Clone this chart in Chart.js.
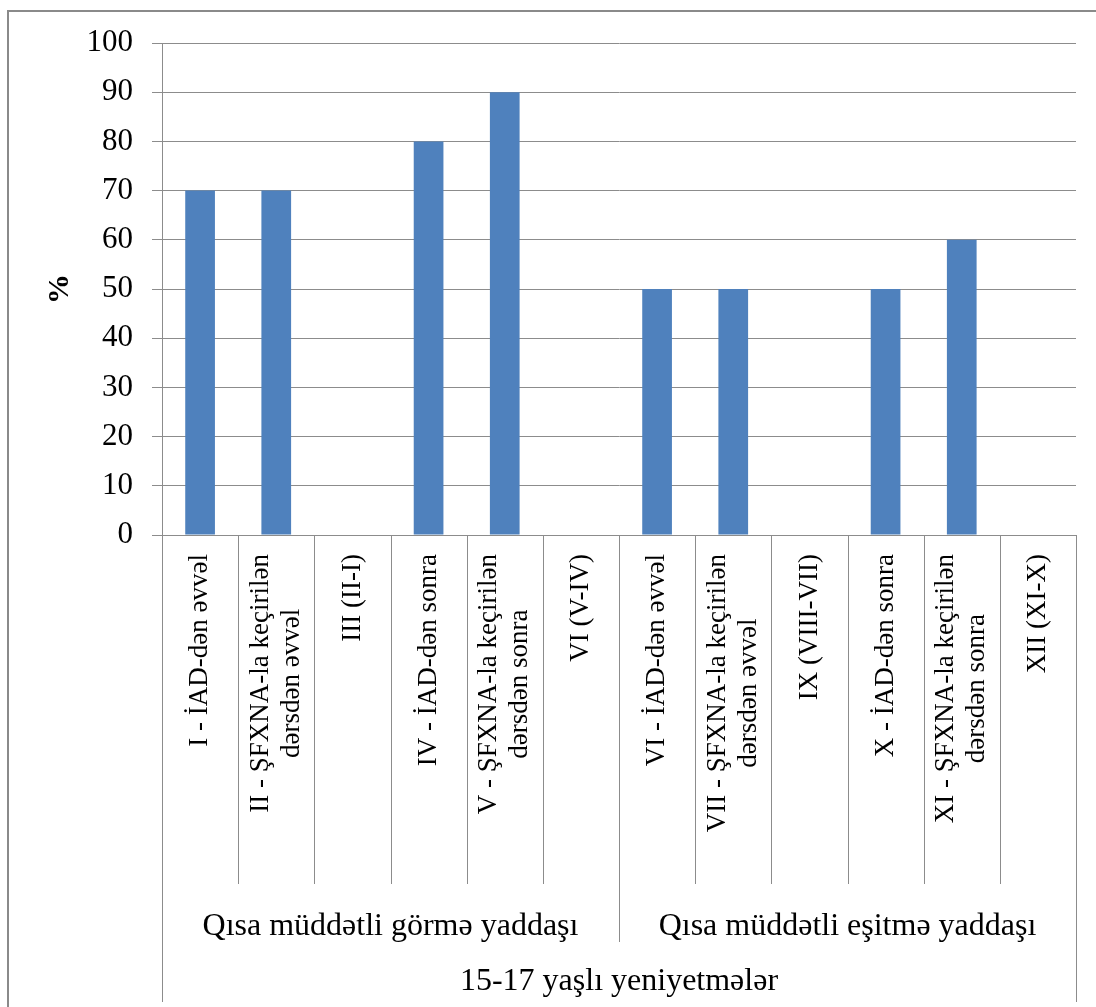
<!DOCTYPE html>
<html>
<head>
<meta charset="utf-8">
<script src="https://cdn.jsdelivr.net/npm/chart.js@4/dist/chart.umd.min.js"></script>
<style>
  html, body { margin: 0; padding: 0; background: #fff; }
  #wrap { width: 1096px; height: 1007px; position: relative; }
</style>
</head>
<body>
<div id="wrap"><canvas id="memoryChart" width="1096" height="1007"></canvas></div>
<script>
// Category labels (each entry = lines of a rotated label)
const categories = [
    ["I - İAD-dən əvvəl"],
    ["II - ŞFXNA-la keçirilən", "dərsdən əvvəl"],
    ["III (II-I)"],
    ["IV - İAD-dən sonra"],
    ["V - ŞFXNA-la keçirilən", "dərsdən sonra"],
    ["VI (V-IV)"],
    ["VI - İAD-dən əvvəl"],
    ["VII - ŞFXNA-la keçirilən", "dərsdən əvvəl"],
    ["IX (VIII-VII)"],
    ["X - İAD-dən sonra"],
    ["XI - ŞFXNA-la keçirilən", "dərsdən sonra"],
    ["XII (XI-X)"]
];

// Percent values per category
const percentValues = [70, 70, 0, 80, 90, 0, 50, 50, 0, 50, 60, 0];

// Second and third level of the category axis
const groupLabels = ["Qısa müddətli görmə yaddaşı", "Qısa müddətli eşitmə yaddaşı"];
const groupSize = 6;
const outerLabel = "15-17 yaşlı yeniyetmələr";

const yTicks = { min: 0, max: 100, step: 10 };

const gridColor = "#8c8c8c";
const serif = "'Liberation Serif', 'Times New Roman', serif";

// Draws the frame, the multi-level category labels and their separators
const categoryAxisPlugin = {
    id: "categoryAxis",
    afterDraw(chart) {
        const ctx = chart.ctx;
        const x = chart.scales.x;
        const area = chart.chartArea;
        const n = chart.data.labels.length;

        // cell borders between categories
        const edges = [];
        for (let i = 0; i <= n; i++) {
            if (i === 0) edges.push(area.left);
            else if (i === n) edges.push(area.right);
            else edges.push((x.getPixelForValue(i - 1) + x.getPixelForValue(i)) / 2);
        }

        ctx.save();
        ctx.strokeStyle = gridColor;
        ctx.lineWidth = 1;
        edges.forEach((ex, i) => {
            let endY = 884;
            if (i === 0 || i === n) endY = 1002;
            else if (i % groupSize === 0) endY = 942;
            const px = Math.round(ex) + 0.5;
            ctx.beginPath();
            ctx.moveTo(px, area.bottom);
            ctx.lineTo(px, endY);
            ctx.stroke();
        });

        // outer frame
        ctx.lineWidth = 2;
        ctx.strokeStyle = "#8a8a8a";
        ctx.strokeRect(8, 11, 1200, 1200);

        // rotated category labels, lines centred on each other, ending near the axis
        ctx.fillStyle = "#000";
        ctx.font = "27px " + serif;
        ctx.textAlign = "center";
        ctx.textBaseline = "middle";
        const lineH = 31;
        chart.data.labels.forEach((lines, i) => {
            const cx = x.getPixelForValue(i);
            const widest = Math.max(...lines.map(l => ctx.measureText(l).width));
            ctx.save();
            ctx.translate(cx, area.bottom + 19);
            ctx.rotate(-Math.PI / 2);
            lines.forEach((line, j) => {
                const off = (j - (lines.length - 1) / 2) * lineH;
                ctx.fillText(line, -widest / 2, off);
            });
            ctx.restore();
        });

        // group labels
        ctx.font = "32px " + serif;
        ctx.textBaseline = "alphabetic";
        groupLabels.forEach((label, g) => {
            const left = edges[g * groupSize];
            const right = edges[(g + 1) * groupSize];
            ctx.fillText(label, (left + right) / 2, 935);
        });

        // outer label
        ctx.fillText(outerLabel, (area.left + area.right) / 2, 990);

        // y axis title
        ctx.font = "bold 30px " + serif;
        ctx.textBaseline = "middle";
        ctx.translate(60, (area.top + area.bottom) / 2);
        ctx.rotate(-Math.PI / 2);
        ctx.fillText("%", 0, 0);
        ctx.restore();
    }
};

const ctx = document.getElementById("memoryChart").getContext("2d");
const memoryChart = new Chart(ctx, {
    type: "bar",
    data: {
        labels: categories,
        datasets: [{
            data: percentValues,
            backgroundColor: "#4f81bd",
            borderWidth: 0,
            barPercentage: 0.39,
            categoryPercentage: 1
        }]
    },
    options: {
        responsive: false,
        animation: false,
        layout: { padding: { top: 43, right: 20, bottom: 0, left: 0 } },
        plugins: {
            legend: { display: false },
            tooltip: { enabled: false }
        },
        scales: {
            x: {
                ticks: { display: false },
                grid: { display: false },
                border: { display: true, color: gridColor, width: 1 },
                afterFit(scale) { scale.height = 472; }
            },
            y: {
                min: yTicks.min,
                max: yTicks.max,
                ticks: {
                    stepSize: yTicks.step,
                    color: "#000",
                    padding: 19,
                    font: { family: serif, size: 31 }
                },
                grid: { color: gridColor, tickLength: 10, tickColor: gridColor },
                border: { display: true, color: gridColor, width: 1 },
                afterFit(scale) { scale.width = 162; }
            }
        }
    },
    plugins: [categoryAxisPlugin]
});
</script>
</body>
</html>
